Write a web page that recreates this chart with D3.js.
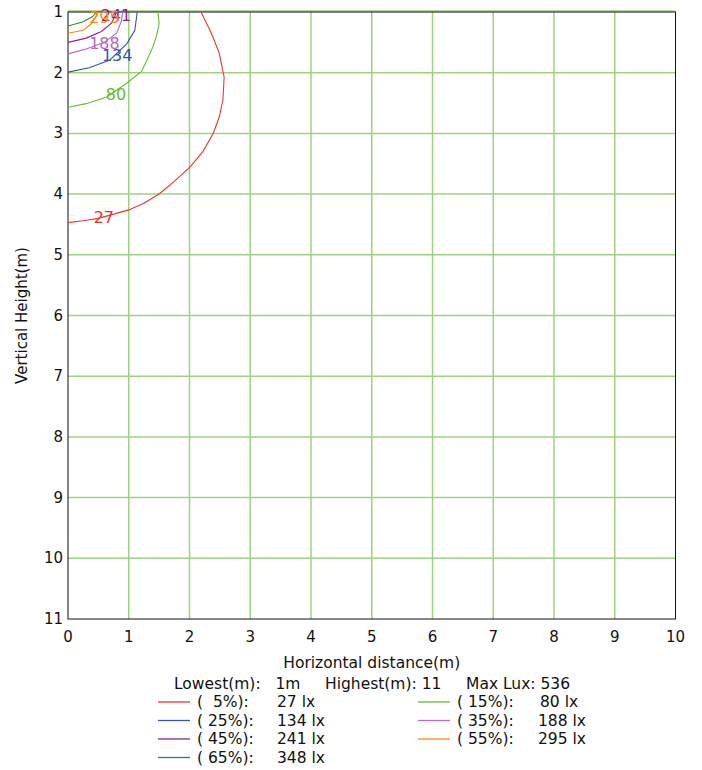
<!DOCTYPE html>
<html>
<head>
<meta charset="utf-8">
<script src="https://cdn.jsdelivr.net/npm/d3@7"></script>
<style>
  body { margin: 0; background: #fff; }
  text { font-family: "DejaVu Sans", Verdana, sans-serif; fill: #111; }
</style>
</head>
<body>
<svg id="chart" width="702" height="770"></svg>
<script>
// isolux contour levels (lux) and their share of max lux
var levels = [27, 80, 134, 188, 241, 295, 348];
var percents = [5, 15, 25, 35, 45, 55, 65];
var colors = ["#ee3333", "#66bb33", "#3355aa", "#bb66bb", "#882299", "#ff8811", "#228844"];

// contour points: [horizontal m, vertical m]
var c27 = [[2.19, 1.0], [2.36, 1.35], [2.49, 1.68], [2.57, 2.07], [2.55, 2.45], [2.49, 2.73], [2.39, 3.0],
    [2.22, 3.3], [2.01, 3.55], [1.75, 3.79], [1.51, 3.99], [1.25, 4.15], [1.0, 4.26], [0.75, 4.33],
    [0.5, 4.40], [0.25, 4.44], [0, 4.47]];
var c80 = [[1.48, 1.0], [1.50, 1.19], [1.46, 1.38], [1.40, 1.57], [1.30, 1.79], [1.21, 1.98], [0.97, 2.17],
    [0.64, 2.40], [0.3, 2.51], [0, 2.57]];
var c134 = [[1.14, 1.0], [1.10, 1.30], [0.97, 1.52], [0.69, 1.79], [0.35, 1.92], [0, 1.99]];
var c188 = [[0.90, 1.0], [0.88, 1.15], [0.80, 1.35], [0.6, 1.50], [0.3, 1.61], [0, 1.69]];
var c241 = [[0.80, 1.0], [0.72, 1.18], [0.55, 1.32], [0.3, 1.43], [0, 1.50]];
var c295 = [[0.50, 1.0], [0.39, 1.19], [0.25, 1.30], [0, 1.35]];
var c348 = [[0.47, 1.0], [0.40, 1.08], [0.25, 1.16], [0, 1.23]];
var contours = [c27, c80, c134, c188, c241, c295, c348];

// where each level's number sits on its line
var labelPos = [[0.59, 4.38], [0.79, 2.35], [0.81, 1.71], [0.60, 1.51], [0.79, 1.05], [0.60, 1.09]];

var xTicks = [0, 1, 2, 3, 4, 5, 6, 7, 8, 9, 10];
var yTicks = [1, 2, 3, 4, 5, 6, 7, 8, 9, 10, 11];

var lowest = "1m", highest = "11", maxLux = 536;

var svg = d3.select("#chart");
// note: "top" is taken by window.top, so plot edges get their own names
var plotLeft = 68, plotTop = 12, plotRight = 675.5, plotBottom = 619;

var x = d3.scaleLinear().domain([0, 10]).range([plotLeft, plotRight]);
var y = d3.scaleLinear().domain([1, 11]).range([plotTop, plotBottom]);

// grid
svg.append("g")
    .selectAll("line")
    .data(xTicks.slice(1, -1))
    .enter().append("line")
    .attr("x1", function (d) { return x(d); })
    .attr("x2", function (d) { return x(d); })
    .attr("y1", plotTop).attr("y2", plotBottom)
    .attr("stroke", "#9fd27f").attr("stroke-width", 1.5);

svg.append("g")
    .selectAll("line")
    .data(yTicks.slice(0, -1))
    .enter().append("line")
    .attr("x1", plotLeft).attr("x2", plotRight)
    .attr("y1", function (d) { return y(d) - (d == 1 ? 1 : 0); })
    .attr("y2", function (d) { return y(d) - (d == 1 ? 1 : 0); })
    .attr("stroke", "#9fd27f").attr("stroke-width", 1.5);

// frame
svg.append("rect")
    .attr("x", plotLeft).attr("y", plotTop)
    .attr("width", plotRight - plotLeft).attr("height", plotBottom - plotTop)
    .attr("fill", "none").attr("stroke", "#111").attr("stroke-width", 1);

// tick labels
svg.append("g")
    .selectAll("text")
    .data(xTicks)
    .enter().append("text")
    .attr("x", function (d) { return x(d); })
    .attr("y", plotBottom + 23)
    .attr("text-anchor", "middle")
    .attr("font-size", 15)
    .text(function (d) { return d; });

svg.append("g")
    .selectAll("text")
    .data(yTicks)
    .enter().append("text")
    .attr("x", plotLeft - 5)
    .attr("y", function (d) { return y(d) + 5; })
    .attr("text-anchor", "end")
    .attr("font-size", 15)
    .text(function (d) { return d; });

// axis titles
svg.append("text")
    .attr("x", (plotLeft + plotRight) / 2)
    .attr("y", 668)
    .attr("text-anchor", "middle")
    .attr("font-size", 15.5)
    .text("Horizontal distance(m)");

svg.append("text")
    .attr("transform", "translate(27," + ((plotTop + plotBottom) / 2) + ") rotate(-90)")
    .attr("text-anchor", "middle")
    .attr("font-size", 15)
    .text("Vertical Height(m)");

// contour lines
var line = d3.line()
    .x(function (d) { return x(d[0]); })
    .y(function (d) { return y(d[1]); });

svg.append("clipPath").attr("id", "plot")
    .append("rect").attr("x", plotLeft).attr("y", plotTop)
    .attr("width", plotRight - plotLeft).attr("height", plotBottom - plotTop);

svg.append("g")
    .attr("clip-path", "url(#plot)")
    .selectAll("path")
    .data(contours)
    .enter().append("path")
    .attr("d", line)
    .attr("fill", "none")
    .attr("stroke", function (d, i) { return colors[i]; })
    .attr("stroke-width", 1.1);

svg.append("g")
    .selectAll("text")
    .data(labelPos)
    .enter().append("text")
    .attr("x", function (d) { return x(d[0]); })
    .attr("y", function (d) { return y(d[1]) + 6; })
    .attr("text-anchor", "middle")
    .attr("font-size", 16)
    .style("fill", function (d, i) { return colors[i]; })
    .text(function (d, i) { return levels[i]; });

// summary line
svg.append("text")
    .attr("x", 174)
    .attr("y", 689)
    .attr("font-size", 15.5)
    .attr("xml:space", "preserve")
    .style("white-space", "pre")
    .text("Lowest(m):   " + lowest + "     Highest(m): " + highest + "     Max Lux: " + maxLux);

// legend, two columns
var legend = svg.append("g")
    .selectAll("g")
    .data(levels)
    .enter().append("g")
    .attr("transform", function (d, i) {
        var col = i % 2, row = Math.floor(i / 2);
        return "translate(" + (col ? 418 : 158) + "," + (702 + row * 18.5) + ")";
    });

legend.append("line")
    .attr("x1", 0).attr("x2", 32)
    .attr("stroke", function (d, i) { return colors[i]; })
    .attr("stroke-width", 1.3);

legend.append("text")
    .attr("x", 39)
    .attr("y", 5)
    .attr("font-size", 15.5)
    .attr("xml:space", "preserve")
    .style("white-space", "pre")
    .text(function (d, i) { return "(" + (percents[i] < 10 ? "  " : " ") + percents[i] + "%):"; });

legend.append("text")
    .attr("x", function (d, i) { return i % 2 ? (d < 100 ? 122 : 120) : 119; })
    .attr("y", 5)
    .attr("font-size", 15.5)
    .text(function (d) { return d + " lx"; });
</script>
</body>
</html>
